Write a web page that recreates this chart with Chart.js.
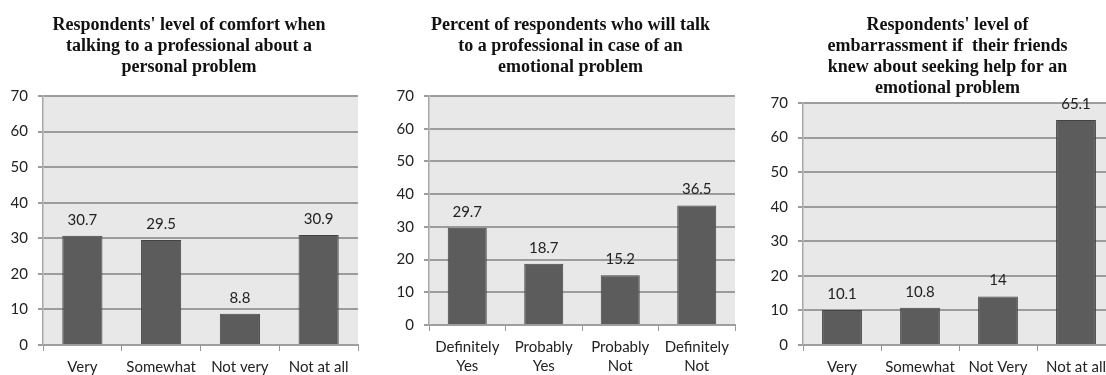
<!DOCTYPE html>
<html>
<head>
<meta charset="utf-8">
<script src="https://cdn.jsdelivr.net/npm/chart.js@4.4.0/dist/chart.umd.min.js"></script>
<style>
  html, body { margin: 0; padding: 0; background: #fff; overflow: hidden; }
  body { width: 1106px; height: 375px; position: relative; }
  canvas { position: absolute; top: 0; }
</style>
</head>
<body>
<canvas id="comfortChart" width="378" height="375" style="left:0px"></canvas>
<canvas id="talkChart" width="368" height="375" style="left:386px"></canvas>
<canvas id="embarrassChart" width="372" height="375" style="left:760px"></canvas>

<script>
// ---------- DATA ----------
const comfortTitle = ["Respondents' level of comfort when", "talking to a professional about a", "personal problem"];
const comfortLabels = ["Very", "Somewhat", "Not very", "Not at all"];
const comfortValues = [30.7, 29.5, 8.8, 30.9];

const talkTitle = ["Percent of respondents who will talk", "to a professional in case of an", "emotional problem"];
const talkLabels = [["Definitely", "Yes"], ["Probably", "Yes"], ["Probably", "Not"], ["Definitely", "Not"]];
const talkValues = [29.7, 18.7, 15.2, 36.5];

const embarrassTitle = ["Respondents' level of", "embarrassment if  their friends", "knew about seeking help for an", "emotional problem"];
const embarrassLabels = ["Very", "Somewhat", "Not Very", "Not at all"];
const embarrassValues = [10.1, 10.8, 14, 65.1];

const yMax = 70;
const yStep = 10;

const TICK_FONT = { family: "Lato, 'Open Sans', sans-serif", size: 15 };

// plot area grey fill
const plotBg = {
    id: "plotBg",
    beforeDraw(chart) {
        const a = chart.chartArea;
        const ctx = chart.ctx;
        ctx.save();
        ctx.fillStyle = "#e8e8e8";
        ctx.fillRect(a.left, a.top, a.right - a.left, a.bottom - a.top);
        ctx.restore();
    }
};

// value labels above bars
const barValues = {
    id: "barValues",
    afterDatasetsDraw(chart) {
        const ctx = chart.ctx;
        const ds = chart.data.datasets[0];
        ctx.save();
        ctx.font = "15px Lato, 'Open Sans', sans-serif";
        ctx.fillStyle = "#222";
        ctx.textAlign = "center";
        ctx.textBaseline = "middle";
        chart.getDatasetMeta(0).data.forEach((bar, i) => {
            ctx.fillText(String(ds.data[i]), bar.x, bar.y - 16);
        });
        ctx.restore();
    }
};

// nudge the title block a bit right (title sits over the plot, not the canvas)
const titleShift = {
    id: "titleShift",
    afterLayout(chart, args, opts) {
        const t = chart.titleBlock;
        if (!t) return;
        t.left += opts.dx;
        t.right += opts.dx;
    }
};

function makeChart(id, title, labels, values, opts) {
    new Chart(document.getElementById(id), {
        type: "bar",
        data: {
            labels: labels,
            datasets: [{
                data: values,
                backgroundColor: "#5c5c5c",
                borderColor: "#444",
                borderWidth: 1,
                barPercentage: 1,
                categoryPercentage: 0.51
            }]
        },
        options: {
            responsive: false,
            animation: false,
            layout: { padding: { left: 0, right: opts.padRight, top: 0, bottom: 0 } },
            plugins: {
                legend: { display: false },
                tooltip: { enabled: false },
                titleShift: { dx: 10 },
                title: {
                    display: true,
                    text: title,
                    color: "#111",
                    font: { family: "'Liberation Serif', 'Times New Roman', serif", size: 18, weight: "bold", lineHeight: 1.17 },
                    padding: { top: 14.5, bottom: opts.titleBottom }
                }
            },
            scales: {
                x: {
                    grid: {
                        drawOnChartArea: false,
                        drawTicks: true,
                        tickLength: 6,
                        color: "#999",
                        lineWidth: 1
                    },
                    border: { display: true, color: "#9e9e9e", width: 2 },
                    ticks: {
                        color: "#222",
                        font: { ...TICK_FONT, lineHeight: 1.3 },
                        padding: 6,
                        autoSkip: false,
                        maxRotation: 0
                    },
                    afterFit: s => { s.height = opts.xHeight; }
                },
                y: {
                    min: 0,
                    max: yMax,
                    ticks: {
                        stepSize: yStep,
                        color: "#222",
                        font: TICK_FONT,
                        padding: 10
                    },
                    grid: {
                        color: "#9c9c9c",
                        lineWidth: 2,
                        tickLength: 5
                    },
                    border: { display: true, color: "#a8a8a8", width: 1.5 },
                    afterFit: s => { s.width = 43; }
                }
            }
        },
        plugins: [plotBg, barValues, titleShift]
    });
}

makeChart("comfortChart", comfortTitle, comfortLabels, comfortValues, { padRight: 20, titleBottom: 18.3, xHeight: 30 });
makeChart("talkChart", talkTitle, talkLabels, talkValues, { padRight: 19, titleBottom: 18.3, xHeight: 50 });
makeChart("embarrassChart", embarrassTitle, embarrassLabels, embarrassValues, { padRight: 17, titleBottom: 4.3, xHeight: 30 });
</script>
</body>
</html>
